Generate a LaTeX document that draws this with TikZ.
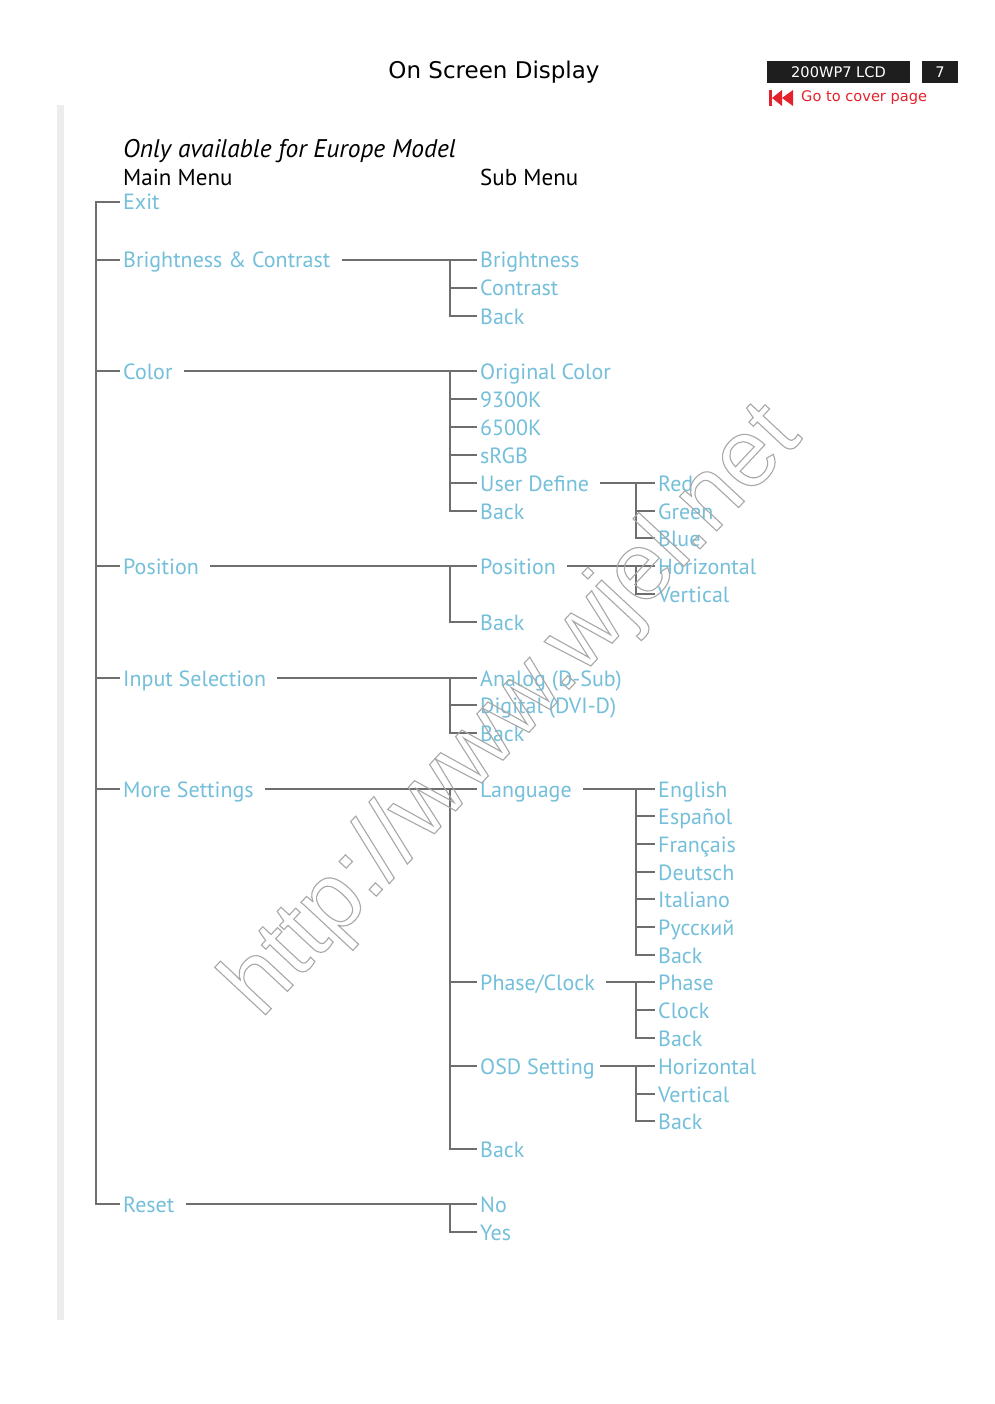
\documentclass[tikz,border=0pt]{standalone}
\usepackage{fontspec}
\setmainfont{PT Sans}
\newfontfamily\headfont{DejaVu Sans}
\newfontfamily\markfont{Liberation Sans}
\definecolor{Item}{HTML}{74BFDA}
\definecolor{Wire}{HTML}{6E6E6E}
\definecolor{Bar}{HTML}{EDEDED}
\definecolor{Tag}{HTML}{1E1E1E}
\definecolor{Cover}{HTML}{E4222B}
\definecolor{Mark}{HTML}{A8A8A8}

\begin{document}
\begin{tikzpicture}[x=1pt,y=-1pt,
  item/.style={anchor=west,inner xsep=3pt,inner ysep=0pt,
   text height=20pt,text depth=4pt,text=Item,
   font=\fontsize{22}{26}\selectfont},
  caption/.style={anchor=base west,inner xsep=3pt,font=\fontsize{23}{27}\selectfont},
  tagbox/.style={fill=Tag,text=white,minimum height=22pt,inner sep=0pt,
   font=\headfont\fontsize{14.6}{17}\selectfont},
  wire/.style={draw=Wire,line width=1.8pt},
  link/.style={wire,shorten <=8pt}]
  \useasboundingbox[fill=white] (0,0) rectangle (994,1404);
  \fill[Bar] (57,105) rectangle (64,1320);

  % header
  \node[font=\headfont\fontsize{23}{27}\selectfont] (title) at (494,72) {On Screen Display};
  \node[tagbox,minimum width=143pt] (model) at (838.5,72) {200WP7 LCD};
  \node[tagbox,minimum width=36pt] (page) at (940,72) {7};
  \node[anchor=west,inner xsep=0pt,text=Cover,font=\headfont\fontsize{14.6}{17}\selectfont] (cover) at (801,98) {Go to cover page};
  \fill[Cover] (769,90) rectangle (771.5,106);
  \fill[Cover] (772,98) -- (782,90) -- (782,106) -- cycle;
  \fill[Cover] (782,98) -- (793,90) -- (793,106) -- cycle;

  \node[caption,font=\itshape\fontsize{25.5}{29}\selectfont] (europe) at (120,158) {Only available for Europe Model};
  \node[caption] (mainhead) at (120,186) {Main Menu};
  \node[caption] (subhead) at (477,186) {Sub Menu};

  \coordinate (mainx) at (96,0);
  \coordinate (subx) at (450,0);
  \coordinate (thirdx) at (636,0);

  % main menu
  \node[item] (exit) at (120,202) {Exit};
  \node[item] (bc) at (120,260) {Brightness \& Contrast};
  \node[item] (color) at (120,371) {Color};
  \node[item] (pos) at (120,566) {Position};
  \node[item] (input) at (120,678) {Input Selection};
  \node[item] (more) at (120,789) {More Settings};
  \node[item] (reset) at (120,1204) {Reset};
  \draw[wire] (exit.west) -| (mainx |- reset.west) -- (reset.west);
  \foreach \n in {bc,color,pos,input,more}
    \draw[wire] (mainx |- \n.west) -- (\n.west);

  % brightness & contrast
  \node[item] (bright) at (477,260) {Brightness};
  \node[item] (contr) at (477,288) {Contrast};
  \node[item] (bcback) at (477,316) {Back};
  \draw[link] (bc.east) -- (bright.west);
  \draw[wire] (subx |- bright.west) |- (bcback.west);
  \draw[wire] (subx |- contr.west) -- (contr.west);

  % color
  \foreach \n/\y/\t in {orig/371/Original Color,k93/399/9300K,k65/427/6500K,
    srgb/455/sRGB,user/483/User Define,colback/511/Back}
    \node[item] (\n) at (477,\y) {\t};
  \draw[link] (color.east) -- (orig.west);
  \draw[wire] (subx |- orig.west) |- (colback.west);
  \foreach \n in {k93,k65,srgb,user}
    \draw[wire] (subx |- \n.west) -- (\n.west);
  \node[item] (red) at (655,483) {Red};
  \node[item] (green) at (655,511) {Green};
  \node[item] (blue) at (655,538) {Blue};
  \draw[link] (user.east) -- (red.west);
  \draw[wire] (thirdx |- red.west) |- (blue.west);
  \draw[wire] (thirdx |- green.west) -- (green.west);

  % position
  \node[item] (subpos) at (477,566) {Position};
  \node[item] (posback) at (477,622) {Back};
  \draw[link] (pos.east) -- (subpos.west);
  \draw[wire] (subx |- subpos.west) |- (posback.west);
  \node[item] (horiz) at (655,566) {Horizontal};
  \node[item] (vert) at (655,594) {Vertical};
  \draw[link] (subpos.east) -- (horiz.west);
  \draw[wire] (thirdx |- horiz.west) |- (vert.west);

  % input selection
  \node[item] (analog) at (477,678) {Analog (D-Sub)};
  \node[item] (digital) at (477,705) {Digital (DVI-D)};
  \node[item] (inback) at (477,733) {Back};
  \draw[link] (input.east) -- (analog.west);
  \draw[wire] (subx |- analog.west) |- (inback.west);
  \draw[wire] (subx |- digital.west) -- (digital.west);

  % more settings
  \node[item] (lang) at (477,789) {Language};
  \node[item] (phase) at (477,982) {Phase/Clock};
  \node[item] (osd) at (477,1066) {OSD Setting};
  \node[item] (moreback) at (477,1149) {Back};
  \draw[link] (more.east) -- (lang.west);
  \draw[wire] (subx |- lang.west) |- (moreback.west);
  \foreach \n in {phase,osd}
    \draw[wire] (subx |- \n.west) -- (\n.west);
  \foreach \n/\y/\t in {en/789/English,es/816/Español,fr/844/Français,
    de/872/Deutsch,it/899/Italiano,ru/927/Русский,langback/955/Back}
    \node[item] (\n) at (655,\y) {\t};
  \draw[link] (lang.east) -- (en.west);
  \draw[wire] (thirdx |- en.west) |- (langback.west);
  \foreach \n in {es,fr,de,it,ru}
    \draw[wire] (thirdx |- \n.west) -- (\n.west);
  \node[item] (ph) at (655,982) {Phase};
  \node[item] (clk) at (655,1010) {Clock};
  \node[item] (phback) at (655,1038) {Back};
  \draw[link] (phase.east) -- (ph.west);
  \draw[wire] (thirdx |- ph.west) |- (phback.west);
  \draw[wire] (thirdx |- clk.west) -- (clk.west);
  \node[item] (oh) at (655,1066) {Horizontal};
  \node[item] (ov) at (655,1094) {Vertical};
  \node[item] (osdback) at (655,1121) {Back};
  \draw[wire,shorten <=2pt] (osd.east) -- (oh.west);
  \draw[wire] (thirdx |- oh.west) |- (osdback.west);
  \draw[wire] (thirdx |- ov.west) -- (ov.west);

  % reset
  \node[item] (no) at (477,1204) {No};
  \node[item] (yes) at (477,1232) {Yes};
  \draw[link] (reset.east) -- (no.west);
  \draw[wire] (subx |- no.west) |- (yes.west);

  % watermark
  \node[rotate=47,text=Mark,font=\markfont\fontsize{96}{96}\selectfont] (mark) at (514,712)
    {\special{pdf:literal direct 1 Tr 1.1 w}http://www.wjel.net\special{pdf:literal direct 0 Tr}};
\end{tikzpicture}
\end{document}
